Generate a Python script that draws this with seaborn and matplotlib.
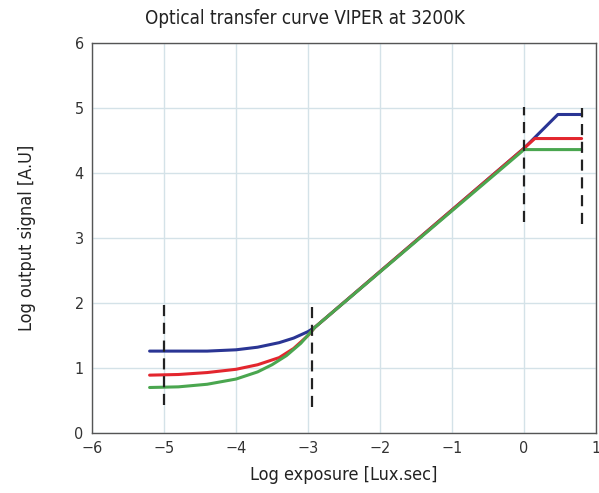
import matplotlib
matplotlib.use("Agg")
import matplotlib.pyplot as plt
import seaborn as sns
import pandas as pd

# Data
blue_x = [-5.2, -4.8, -4.4, -4.0, -3.7, -3.4, -3.2, -3.0, -2.9, 0.0, 0.47, 0.8]
blue_y = [1.26, 1.26, 1.26, 1.28, 1.32, 1.39, 1.46, 1.56, 1.63, 4.38, 4.90, 4.90]
red_x = [-5.2, -4.8, -4.4, -4.0, -3.7, -3.4, -3.2, -3.0, -2.9, 0.0, 0.15, 0.8]
red_y = [0.89, 0.90, 0.93, 0.98, 1.05, 1.16, 1.30, 1.50, 1.63, 4.38, 4.53, 4.53]
green_x = [-5.2, -4.8, -4.4, -4.0, -3.7, -3.5, -3.3, -3.1, -2.9, 0.0, 0.8]
green_y = [0.70, 0.71, 0.75, 0.83, 0.94, 1.05, 1.19, 1.38, 1.63, 4.36, 4.36]

dash_x = [-5.0, -2.95, 0.0, 0.8]
dash_lo = [0.43, 0.40, 3.25, 3.22]
dash_hi = [2.05, 2.00, 5.02, 5.0]

x_ticks = [-6, -5, -4, -3, -2, -1, 0, 1]
y_ticks = [0, 1, 2, 3, 4, 5, 6]

df = pd.concat([
    pd.DataFrame({"x": blue_x, "y": blue_y, "s": "blue"}),
    pd.DataFrame({"x": red_x, "y": red_y, "s": "red"}),
    pd.DataFrame({"x": green_x, "y": green_y, "s": "green"}),
])

sns.set_style("white")
plt.rcParams['font.family'] = ['DejaVu Sans']
plt.rcParams['font.stretch'] = 'condensed'

fig = plt.figure(figsize=(5.99, 4.93), dpi=100)
ax = fig.add_axes([0.1536, 0.1217, 0.8414, 0.7911])

palette = {"blue": "#2a3594", "red": "#e3262e", "green": "#4aa64f"}
sns.lineplot(data=df, x="x", y="y", hue="s", palette=palette, sort=False,
             estimator=None, linewidth=2.2, legend=False, ax=ax)

ax.vlines(dash_x, dash_lo, dash_hi, colors="#222222", linestyles=(0, (5, 3)),
          linewidth=1.6, zorder=5)

ax.set_xlim(-6, 1)
ax.set_ylim(0, 6)
ax.set_xticks(x_ticks)
ax.set_yticks(y_ticks)
ax.set_xticklabels([f"\u2212{abs(v)}" if v < 0 else str(v) for v in x_ticks])
ax.grid(True, color="#d4e2e8", linewidth=1.0)
ax.tick_params(axis="both", labelsize=11.5, length=0, pad=6, colors="#333333")
for s in ax.spines.values():
    s.set_color("#555555")
    s.set_linewidth(1.0)

fig.text(305 / 599, 1 - 19 / 493, "Optical transfer curve VIPER at 3200K",
         fontsize=13.5, color="#222222", ha="center", va="center")
ax.set_xlabel("Log exposure [Lux.sec]", fontsize=13, labelpad=7, color="#222222")
ax.set_ylabel("Log output signal [A.U]", fontsize=13, labelpad=28, color="#222222")

fig.savefig("out.png", dpi=100)
